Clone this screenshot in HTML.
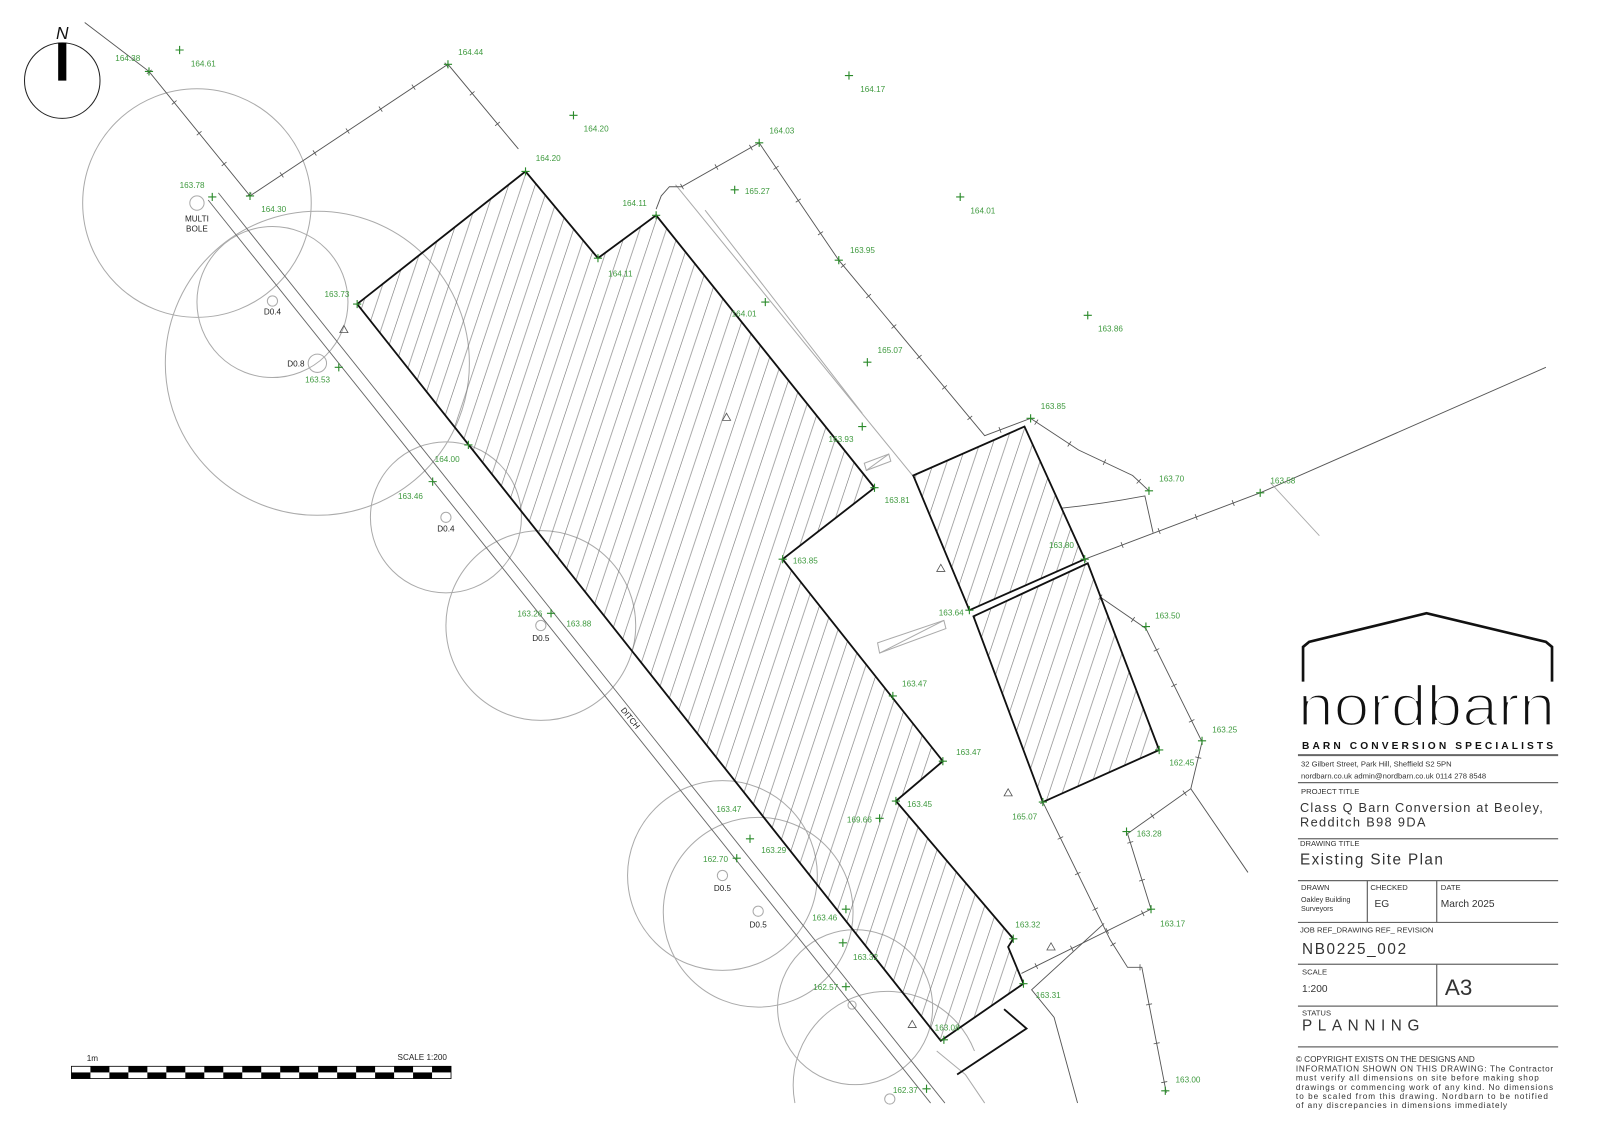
<!DOCTYPE html>
<html><head><meta charset="utf-8">
<style>
html,body{margin:0;padding:0;background:#fff;}
svg{display:block;}
.g{fill:#3f9a3f;font-family:"Liberation Sans",sans-serif;font-size:8px;}
.k{fill:#222;font-family:"Liberation Sans",sans-serif;font-size:8px;}
.t{fill:#333;font-family:"Liberation Sans",sans-serif;}
.f{fill:none;stroke:#555;stroke-width:0.9;}
.ft{fill:none;stroke:#555;stroke-width:6;stroke-dasharray:0.8 38;}
.c{fill:none;stroke:#aaa;stroke-width:1;}
.b{stroke:#111;stroke-width:1.8;fill:url(#h);}
.p{stroke:#2a8a2a;stroke-width:1.1;}
</style></head><body>
<svg width="1600" height="1131" viewBox="0 0 1568 1108.4" xmlns="http://www.w3.org/2000/svg">
<defs>
<pattern id="h" patternUnits="userSpaceOnUse" width="13" height="39">
<line x1="-13" y1="39" x2="0" y2="0" stroke="#777" stroke-width="0.6"/>
<line x1="0" y1="39" x2="13" y2="0" stroke="#777" stroke-width="0.6"/>
<line x1="13" y1="39" x2="26" y2="0" stroke="#777" stroke-width="0.6"/>
</pattern>
</defs>
<rect width="1568" height="1109" fill="#fff"/>

<!-- compass -->
<circle cx="61" cy="79" r="37" fill="none" stroke="#222" stroke-width="1"/>
<rect x="57" y="42" width="8" height="37" fill="#000"/>
<text x="61" y="38" text-anchor="middle" font-family="Liberation Sans" font-style="italic" font-size="17" fill="#111">N</text>

<!-- tree canopies -->
<g class="c">
<circle cx="193" cy="199" r="112"/>
<circle cx="267" cy="296" r="74"/>
<circle cx="311" cy="356" r="149"/>
<circle cx="437" cy="507" r="74"/>
<circle cx="530" cy="613" r="93"/>
<circle cx="708" cy="858" r="93"/>
<circle cx="743" cy="894" r="93"/>
<circle cx="838" cy="987" r="76"/>
<path d="M779,1081 A92,92 0 0 1 955,1030"/>
<circle cx="193" cy="199" r="7"/>
<circle cx="267" cy="295" r="5"/>
<circle cx="311" cy="356" r="9"/>
<circle cx="437" cy="507" r="5"/>
<circle cx="530" cy="613" r="5"/>
<circle cx="708" cy="858" r="5"/>
<circle cx="743" cy="893" r="5"/>
<circle cx="835" cy="985" r="4"/>
<circle cx="872" cy="1077" r="5"/>
</g>

<!-- ditch -->
<line x1="204" y1="196" x2="912" y2="1081" stroke="#666" stroke-width="0.9"/>
<line x1="214" y1="189" x2="926" y2="1081" stroke="#666" stroke-width="0.9"/>
<text x="0" y="0" class="k" font-size="7" transform="translate(608,696) rotate(51)">DITCH</text>

<!-- gray inner lines -->
<g stroke="#aaa" stroke-width="1" fill="none">
<line x1="662" y1="181" x2="896" y2="468"/>
<line x1="691" y1="206" x2="845" y2="405"/>
<polygon points="847,454 871,445 873,452 849,461"/>
<line x1="849" y1="461" x2="871" y2="445"/>
<polygon points="860,630 925,608 927,616 862,640"/>
<line x1="862" y1="640" x2="925" y2="608"/>
<line x1="918" y1="1030" x2="946" y2="1053"/>
<line x1="946" y1="1053" x2="965" y2="1081"/>
</g>

<!-- fences -->
<g>
<path class="f" d="M83,22 L146,70 L245,192 L439,63 L508,146"/>
<path class="ft" d="M146,70 L245,192 L439,63 L508,146"/>
<path class="f" d="M643,205 L648,192 L656,183 L668,183 L744,140 L822,255 L965,427 L1010,410 L1057,441 L1110,466 L1126,481"/>
<path class="ft" d="M668,183 L744,140 L822,255 L965,427 L1010,410 L1057,441 L1110,466 L1126,481"/>
<path class="f" d="M1063,548 L1235,483 L1515,360"/>
<path class="ft" d="M1063,548 L1235,483"/>
<line class="f" x1="1245" y1="473" x2="1293" y2="525" style="stroke:#aaa"/>
<path class="f" d="M1040,498 Q1080,494 1122,486 L1130,522"/>
<path class="f" d="M1078,585 L1123,616 L1178,727 L1167,773 L1105,817 L1128,891 L1001,954"/>
<path class="ft" d="M1078,585 L1123,616 L1178,727 L1167,773 L1105,817 L1128,891 L1001,954"/>
<path class="f" d="M1167,773 L1223,855"/>
<path class="f" d="M1022,786 L1088,921 L1105,948 L1119,948 L1143,1071"/>
<path class="ft" d="M1022,786 L1088,921 L1105,948 L1119,948 L1143,1071"/>
<path class="f" d="M1082,905 L1011,970 L1033,997 L1056,1081"/>
</g>

<!-- buildings -->
<polygon class="b" points="350,298 515,168 586,253 643,211 857,478 767,548 924,746 878,785 993,920 988,928 1003,964 922,1020"/>
<polyline points="984,989 1006,1008 938,1053" fill="none" stroke="#111" stroke-width="1.8"/>
<polygon class="b" points="895,466 1004,418 1063,548 950,598"/>
<polygon class="b" points="954,604 1066,552 1136,735 1022,786"/>

<!-- triangles -->
<g fill="none" stroke="#555" stroke-width="0.8">
<path d="M337,319 l-4,7 h8z"/><path d="M712,405 l-4,7 h8z"/><path d="M922,553 l-4,7 h8z"/>
<path d="M988,773 l-4,7 h8z"/><path d="M1030,924 l-4,7 h8z"/><path d="M894,1000 l-4,7 h8z"/>
</g>

<!-- spot levels -->
<g class="p">
<path d="M146,66v8M142,70h8M176,45v8M172,49h8M439,59v8M435,63h8M562,109v8M558,113h8M832,70v8M828,74h8M744,136v8M740,140h8M515,164v8M511,168h8M643,207v8M639,211h8M586,249v8M582,253h8M720,182v8M716,186h8M941,189v8M937,193h8M208,189v8M204,193h8M245,188v8M241,192h8M350,294v8M346,298h8M750,292v8M746,296h8M822,251v8M818,255h8M1066,305v8M1062,309h8M850,351v8M846,355h8M845,414v8M841,418h8M1010,406v8M1006,410h8M857,474v8M853,478h8M1126,477v8M1122,481h8M1235,479v8M1231,483h8M332,356v8M328,360h8M459,432v8M455,436h8M424,468v8M420,472h8M1063,544v8M1059,548h8M767,544v8M763,548h8M950,594v8M946,598h8M1123,610v8M1119,614h8M540,597v8M536,601h8M875,678v8M871,682h8M1178,722v8M1174,726h8M924,742v8M920,746h8M1136,731v8M1132,735h8M735,818v8M731,822h8M878,781v8M874,785h8M862,798v8M858,802h8M1022,782v8M1018,786h8M1104,811v8M1100,815h8M722,837v8M718,841h8M829,887v8M825,891h8M1128,887v8M1124,891h8M993,916v8M989,920h8M826,920v8M822,924h8M829,963v8M825,967h8M1003,960v8M999,964h8M925,1015v8M921,1019h8M908,1063v8M904,1067h8M1142,1065v8M1138,1069h8"/>
</g>
<g class="g">
<text x="113" y="60">164.38</text><text x="187" y="65">164.61</text><text x="449" y="54">164.44</text>
<text x="572" y="129">164.20</text><text x="843" y="90">164.17</text><text x="754" y="131">164.03</text>
<text x="525" y="158">164.20</text><text x="610" y="202">164.11</text><text x="596" y="271">164.11</text>
<text x="730" y="190">165.27</text><text x="951" y="209">164.01</text><text x="176" y="184">163.78</text>
<text x="256" y="208">164.30</text><text x="318" y="291">163.73</text><text x="717" y="310">164.01</text>
<text x="833" y="248">163.95</text><text x="1076" y="325">163.86</text><text x="860" y="346">165.07</text>
<text x="812" y="433">163.93</text><text x="1020" y="401">163.85</text><text x="867" y="493">163.81</text>
<text x="1136" y="472">163.70</text><text x="1245" y="474">163.58</text><text x="299" y="375">163.53</text>
<text x="426" y="453">164.00</text><text x="390" y="489">163.46</text><text x="1028" y="537">163.80</text>
<text x="777" y="552">163.85</text><text x="920" y="603">163.64</text><text x="1132" y="606">163.50</text>
<text x="507" y="604">163.26</text><text x="555" y="614">163.88</text><text x="884" y="673">163.47</text>
<text x="1188" y="718">163.25</text><text x="937" y="740">163.47</text><text x="1146" y="750">162.45</text>
<text x="702" y="796">163.47</text><text x="889" y="791">163.45</text><text x="830" y="806">169.66</text>
<text x="992" y="803">165.07</text><text x="1114" y="820">163.28</text><text x="746" y="836">163.29</text>
<text x="689" y="845">162.70</text><text x="796" y="902">163.46</text><text x="1137" y="908">163.17</text>
<text x="995" y="909">163.32</text><text x="836" y="941">163.32</text><text x="797" y="970">162.57</text>
<text x="1015" y="978">163.31</text><text x="916" y="1010">163.08</text><text x="875" y="1071">162.37</text>
<text x="1152" y="1061">163.00</text>
</g>
<g class="k" text-anchor="middle">
<text x="193" y="217">MULTI</text><text x="193" y="227">BOLE</text>
<text x="267" y="308">D0.4</text><text x="290" y="359">D0.8</text><text x="437" y="521">D0.4</text>
<text x="530" y="628">D0.5</text><text x="708" y="873">D0.5</text><text x="743" y="909">D0.5</text>
</g>

<!-- scale bar -->
<text x="85" y="1040" class="k" font-size="10">1m</text>
<text x="438" y="1039" class="k" font-size="10" text-anchor="end">SCALE 1:200</text>
<rect x="70" y="1045" width="372" height="12" fill="#fff" stroke="#000" stroke-width="0.8"/>
<g fill="#000">
<rect x="88.6" y="1045" width="18.6" height="6"/><rect x="125.8" y="1045" width="18.6" height="6"/><rect x="163" y="1045" width="18.6" height="6"/><rect x="200.2" y="1045" width="18.6" height="6"/><rect x="237.4" y="1045" width="18.6" height="6"/><rect x="274.6" y="1045" width="18.6" height="6"/><rect x="311.8" y="1045" width="18.6" height="6"/><rect x="349" y="1045" width="18.6" height="6"/><rect x="386.2" y="1045" width="18.6" height="6"/><rect x="423.4" y="1045" width="18.6" height="6"/>
<rect x="70" y="1051" width="18.6" height="6"/><rect x="107.2" y="1051" width="18.6" height="6"/><rect x="144.4" y="1051" width="18.6" height="6"/><rect x="181.6" y="1051" width="18.6" height="6"/><rect x="218.8" y="1051" width="18.6" height="6"/><rect x="256" y="1051" width="18.6" height="6"/><rect x="293.2" y="1051" width="18.6" height="6"/><rect x="330.4" y="1051" width="18.6" height="6"/><rect x="367.6" y="1051" width="18.6" height="6"/><rect x="404.8" y="1051" width="18.6" height="6"/>
</g>

<!-- title block -->
<polyline points="1277,668 1277,634 1283,629 1398,601 1515,629 1521,634 1521,668" fill="none" stroke="#111" stroke-width="2.6"/>
<text x="1272" y="711" font-family="Liberation Sans" font-size="56" fill="#111" textLength="252" lengthAdjust="spacingAndGlyphs" stroke="#fff" stroke-width="2.2">nordbarn</text>
<text x="1276" y="734" font-family="Liberation Sans" font-weight="bold" font-size="10" fill="#111" textLength="246" lengthAdjust="spacing">BARN  CONVERSION  SPECIALISTS</text>
<g stroke="#666" stroke-width="1.2">
<line x1="1272" y1="740" x2="1527" y2="740" stroke-width="2"/>
<line x1="1272" y1="767" x2="1527" y2="767"/>
<line x1="1272" y1="822" x2="1527" y2="822"/>
<line x1="1272" y1="863" x2="1527" y2="863"/>
<line x1="1272" y1="904" x2="1527" y2="904"/>
<line x1="1272" y1="945" x2="1527" y2="945"/>
<line x1="1272" y1="986" x2="1527" y2="986"/>
<line x1="1272" y1="1026" x2="1527" y2="1026"/>
<line x1="1340" y1="863" x2="1340" y2="904"/>
<line x1="1408" y1="863" x2="1408" y2="904"/>
<line x1="1408" y1="945" x2="1408" y2="986"/>
</g>
<g class="t">
<text x="1275" y="751" font-size="7.5">32 Gilbert Street, Park Hill, Sheffield   S2 5PN</text>
<text x="1275" y="763" font-size="7.5">nordbarn.co.uk     admin@nordbarn.co.uk       0114 278 8548</text>
<text x="1275" y="778" font-size="7.5">PROJECT TITLE</text>
<text x="1274" y="796" font-size="12.5" textLength="238" lengthAdjust="spacing">Class Q Barn Conversion at Beoley,</text>
<text x="1274" y="810" font-size="12.5" textLength="123" lengthAdjust="spacing">Redditch B98 9DA</text>
<text x="1274" y="829" font-size="7.5">DRAWING TITLE</text>
<text x="1274" y="847" font-size="15" textLength="140" lengthAdjust="spacing">Existing Site Plan</text>
<text x="1275" y="872" font-size="7.5">DRAWN</text>
<text x="1343" y="872" font-size="7.5">CHECKED</text>
<text x="1412" y="872" font-size="7.5">DATE</text>
<text x="1275" y="884" font-size="7">Oakley Building</text>
<text x="1275" y="893" font-size="7">Surveyors</text>
<text x="1347" y="889" font-size="10">EG</text>
<text x="1412" y="889" font-size="10">March 2025</text>
<text x="1274" y="914" font-size="7.5">JOB REF_DRAWING REF_ REVISION</text>
<text x="1276" y="935" font-size="15" textLength="102" lengthAdjust="spacing">NB0225_002</text>
<text x="1276" y="955" font-size="7.5">SCALE</text>
<text x="1276" y="972" font-size="10">1:200</text>
<text x="1416" y="975" font-size="22">A3</text>
<text x="1276" y="995" font-size="7.5">STATUS</text>
<text x="1276" y="1010" font-size="15" textLength="115" lengthAdjust="spacing">PLANNING</text>
<g font-size="8">
<text x="1270" y="1041">©     COPYRIGHT EXISTS ON THE DESIGNS AND</text>
<text x="1270" y="1050" textLength="252" lengthAdjust="spacing">INFORMATION SHOWN ON THIS DRAWING:    The Contractor</text>
<text x="1270" y="1059" textLength="238" lengthAdjust="spacing">must verify all dimensions on site before making shop</text>
<text x="1270" y="1068" textLength="252" lengthAdjust="spacing">drawings or commencing work of any kind. No dimensions</text>
<text x="1270" y="1077" textLength="247" lengthAdjust="spacing">to be scaled from this drawing. Nordbarn to be notified</text>
<text x="1270" y="1086" textLength="207" lengthAdjust="spacing">of any discrepancies in dimensions immediately</text>
</g>
</g>
</svg>
</body></html>
